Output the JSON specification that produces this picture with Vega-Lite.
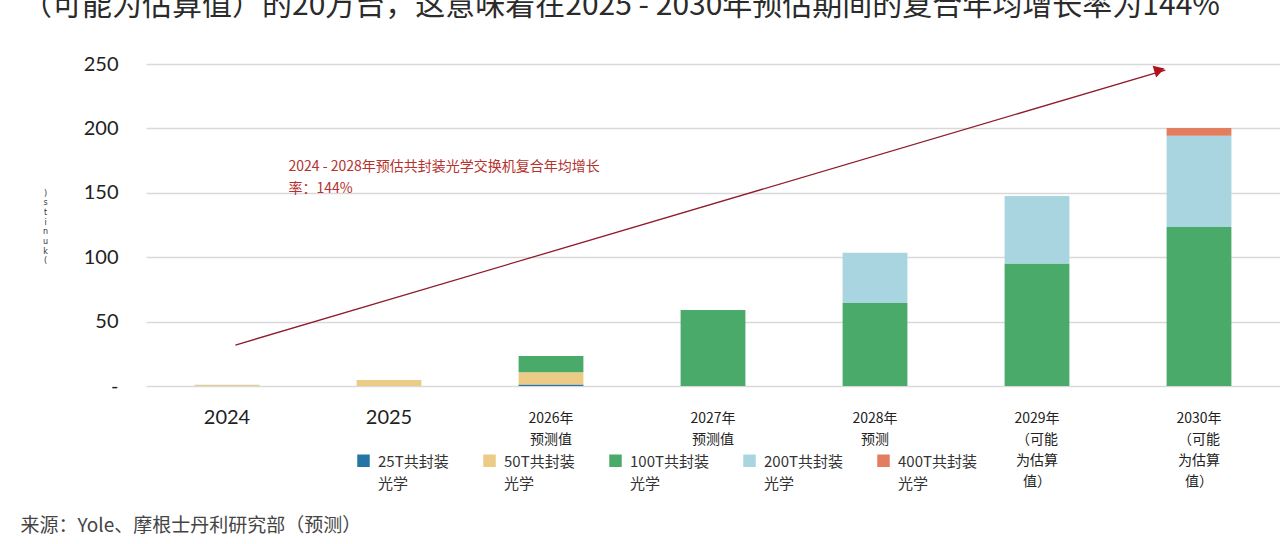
{
  "$schema": "https://vega.github.io/schema/vega-lite/v6.json",
  "autosize": "none",
  "width": 1134,
  "height": 322,
  "padding": {"left": 146, "top": 64, "right": 0, "bottom": 158},
  "background": "white",
  "title": {
    "text": "（可能为估算值）的20万台，这意味着在2025 - 2030年预估期间的复合年均增长率为144%",
    "anchor": "start",
    "frame": "group",
    "baseline": "alphabetic",
    "offset": 0,
    "dx": -124,
    "dy": -9,
    "font": "Noto Sans CJK SC",
    "fontSize": 30,
    "fontWeight": "normal",
    "color": "#2b2b2b"
  },
  "datasets": {
    "units": [
      {"year": "2024", "series": "25T共封装|光学", "k": 1, "value": 0.2},
      {"year": "2024", "series": "50T共封装|光学", "k": 2, "value": 0.8},
      {"year": "2025", "series": "50T共封装|光学", "k": 2, "value": 4.7},
      {"year": "2026年|预测值", "series": "25T共封装|光学", "k": 1, "value": 1.2},
      {"year": "2026年|预测值", "series": "50T共封装|光学", "k": 2, "value": 9.4},
      {"year": "2026年|预测值", "series": "100T共封装|光学", "k": 3, "value": 12.7},
      {"year": "2027年|预测值", "series": "100T共封装|光学", "k": 3, "value": 59},
      {"year": "2028年|预测", "series": "100T共封装|光学", "k": 3, "value": 64.4},
      {"year": "2028年|预测", "series": "200T共封装|光学", "k": 4, "value": 39.1},
      {"year": "2029年|（可能|为估算|值）", "series": "100T共封装|光学", "k": 3, "value": 95.2},
      {"year": "2029年|（可能|为估算|值）", "series": "200T共封装|光学", "k": 4, "value": 52.3},
      {"year": "2030年|（可能|为估算|值）", "series": "100T共封装|光学", "k": 3, "value": 123.4},
      {"year": "2030年|（可能|为估算|值）", "series": "200T共封装|光学", "k": 4, "value": 70.9},
      {"year": "2030年|（可能|为估算|值）", "series": "400T共封装|光学", "k": 5, "value": 6.0}
    ],
    "arrow": [
      {"from": "2024", "to": "2030年|（可能|为估算|值）", "y1": 31.8, "y2": 245.3}
    ],
    "note": [
      {"at": "2024", "y": 170, "text": "2024 - 2028年预估共封装光学交换机复合年均增长"},
      {"at": "2024", "y": 153, "text": "率：144%"}
    ]
  },
  "layer": [
    {
      "data": {"name": "units"},
      "mark": {"type": "bar"},
      "encoding": {
        "x": {
          "field": "year",
          "type": "nominal",
          "sort": null,
          "scale": {
            "domain": ["2024", "2025", "2026年|预测值", "2027年|预测值", "2028年|预测", "2029年|（可能|为估算|值）", "2030年|（可能|为估算|值）"],
            "paddingInner": 0.6,
            "paddingOuter": 0.3
          },
          "axis": {
            "title": "来源：Yole、摩根士丹利研究部（预测）",
            "titleX": -126,
            "titleY": 139,
            "titleAlign": "left",
            "titleBaseline": "middle",
            "titleFont": "Noto Sans CJK SC",
            "titleFontSize": 19,
            "titleFontWeight": "normal",
            "titleColor": "#444444",
            "domain": false,
            "ticks": false,
            "grid": false,
            "labelAngle": 0,
            "labelExpr": "split(datum.label, '|')",
            "labelBaseline": "top",
            "labelLineHeight": 21,
            "labelColor": "#222222",
            "labelFont": {"condition": {"test": "datum.value == '2024' || datum.value == '2025'", "value": "Lato"}, "value": "Noto Sans CJK SC"},
            "labelFontSize": {"condition": {"test": "datum.value == '2024' || datum.value == '2025'", "value": 20}, "value": 14},
            "labelPadding": {"condition": {"test": "datum.value == '2024' || datum.value == '2025'", "value": 21}, "value": 25}
          }
        },
        "y": {
          "aggregate": "sum",
          "field": "value",
          "type": "quantitative",
          "stack": "zero",
          "scale": {"domain": [0, 250], "nice": false},
          "axis": {
            "title": [")", "s", "t", "i", "n", "u", "k", "("],
            "titleAngle": 0,
            "titleX": -101,
            "titleY": 125,
            "titleAlign": "center",
            "titleBaseline": "top",
            "titleFont": "DejaVu Sans",
            "titleFontSize": 8,
            "titleFontWeight": "normal",
            "titleLineHeight": 9.7,
            "titleColor": "#333333",
            "values": [0, 50, 100, 150, 200, 250],
            "labelExpr": "datum.value == 0 ? '-\u00a0\u00a0' : datum.label",
            "labelFont": "Lato",
            "labelFontSize": 20,
            "labelColor": "#222222",
            "labelPadding": 28,
            "domain": false,
            "ticks": false,
            "gridColor": "#d9d9d9",
            "gridWidth": 1.5
          }
        },
        "color": {
          "field": "series",
          "type": "nominal",
          "scale": {
            "domain": ["25T共封装|光学", "50T共封装|光学", "100T共封装|光学", "200T共封装|光学", "400T共封装|光学"],
            "range": ["#2474a6", "#ebcb85", "#4aaa6a", "#a8d5e0", "#e27d60"]
          },
          "legend": {
            "title": null,
            "orient": "none",
            "legendX": 210,
            "legendY": 389,
            "direction": "horizontal",
            "columns": 5,
            "padding": 0,
            "symbolType": "square",
            "symbolSize": 156,
            "symbolStrokeWidth": 0,
            "symbolOpacity": 1,
            "labelExpr": "split(datum.label, '|')",
            "labelFont": "Noto Sans CJK SC",
            "labelFontSize": 15,
            "labelColor": "#333333",
            "labelBaseline": "top",
            "labelOffset": 7,
            "labelLimit": 200,
            "columnPadding": 33,
            "encode": {
              "labels": {"update": {"lineHeight": {"value": 22}, "dy": {"value": -6}}}
            }
          }
        },
        "order": {"field": "k", "type": "quantitative"}
      }
    },
    {
      "data": {"name": "arrow"},
      "mark": {"type": "rule", "color": "#8e1c2a", "strokeWidth": 1.3},
      "encoding": {
        "x": {"field": "from", "type": "nominal", "bandPosition": 0.63},
        "x2": {"field": "to", "bandPosition": -0.02},
        "y": {"field": "y1", "type": "quantitative"},
        "y2": {"field": "y2"}
      }
    },
    {
      "data": {"name": "arrow"},
      "mark": {"type": "point", "shape": "triangle-right", "filled": true, "color": "#b3101c", "opacity": 1, "size": 150, "angle": -16.5},
      "encoding": {
        "x": {"field": "to", "type": "nominal", "bandPosition": -0.11},
        "y": {"field": "y2", "type": "quantitative"}
      }
    },
    {
      "data": {"name": "note"},
      "mark": {"type": "text", "align": "left", "baseline": "middle", "font": "Noto Sans CJK SC", "fontSize": 14, "color": "#b5322e"},
      "encoding": {
        "x": {"field": "at", "type": "nominal", "bandPosition": 1.45},
        "y": {"field": "y", "type": "quantitative"},
        "text": {"field": "text"}
      }
    }
  ],
  "config": {
    "view": {"stroke": null}
  }
}
